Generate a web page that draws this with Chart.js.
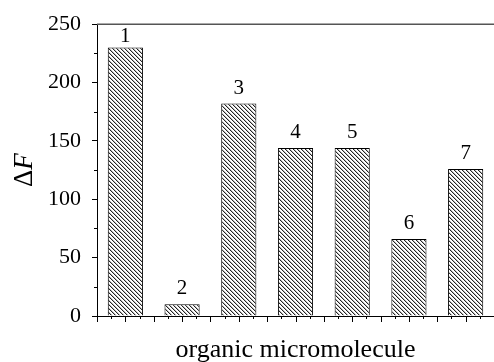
<!DOCTYPE html>
<html>
<head>
<meta charset="utf-8">
<script src="https://cdn.jsdelivr.net/npm/chart.js@4.4.1/dist/chart.umd.min.js"></script>
<style>
  html, body { margin: 0; padding: 0; background: #fff; }
</style>
</head>
<body>
<canvas id="chart" width="494" height="362"></canvas>
<script>
// data
const categories = [1, 2, 3, 4, 5, 6, 7];
const barLabels = ['1', '2', '3', '4', '5', '6', '7'];
const deltaF = [230, 10, 182, 144, 144, 66, 126];
const yTicks = [0, 50, 100, 150, 200, 250];
const xTitle = 'organic micromolecule';

const serif = 'Liberation Serif';

document.addEventListener("DOMContentLoaded", function() {
    const canvas = document.getElementById('chart');
    const ctx = canvas.getContext('2d');

    // diagonal hatch "\\\" for the bars
    const tile = document.createElement('canvas');
    tile.width = 4;
    tile.height = 4;
    const t = tile.getContext('2d');
    t.fillStyle = '#fff';
    t.fillRect(0, 0, 4, 4);
    for (let i = 0; i < 4; i++) {
        t.fillStyle = '#222';
        t.fillRect(i, i, 1, 1);
        t.fillStyle = '#bbb';
        t.fillRect((i + 1) % 4, i, 1, 1);
    }
    const hatch = ctx.createPattern(tile, 'repeat');

    // minor ticks, top frame line, bar numbers and the y title
    const extras = {
        id: 'extras',
        afterDraw(chart) {
            const c = chart.ctx;
            const area = chart.chartArea;
            const x = chart.scales.x;
            const y = chart.scales.y;
            c.save();
            c.strokeStyle = '#000';
            c.lineWidth = 1;
            c.beginPath();
            for (let v = x.min; v <= x.max + 1e-9; v += 0.25) {
                const px = Math.round(x.getPixelForValue(v)) + 0.5;
                const major = Math.abs(v * 2 - Math.round(v * 2)) < 1e-6;
                c.moveTo(px, area.bottom);
                c.lineTo(px, area.bottom + (major ? 6 : 3));
            }
            for (let v = 25; v < y.max; v += 50) {
                const py = Math.round(y.getPixelForValue(v)) + 0.5;
                c.moveTo(area.left, py);
                c.lineTo(area.left - 3, py);
            }
            c.stroke();

            c.strokeStyle = '#555';
            c.lineWidth = 1.5;
            c.beginPath();
            c.moveTo(area.left, area.top);
            c.lineTo(area.right, area.top);
            c.stroke();

            // numbers over bars
            c.fillStyle = '#000';
            c.font = '21px "' + serif + '"';
            c.textAlign = 'center';
            c.textBaseline = 'alphabetic';
            chart.getDatasetMeta(0).data.forEach((bar, i) => {
                const base = Math.max(bar.y - 10, area.top + 18);
                c.fillText(barLabels[i], bar.x, base);
            });

            // y title: ΔF with italic F
            c.translate(area.left - 65, (area.top + area.bottom) / 2);
            c.rotate(-Math.PI / 2);
            c.textAlign = 'left';
            const up = '27px "' + serif + '"';
            const it = 'italic 27px "' + serif + '"';
            c.font = up;
            const w1 = c.measureText('\u0394').width;
            c.font = it;
            const w2 = c.measureText('F').width;
            const start = -(w1 + w2) / 2;
            c.font = up;
            c.fillText('\u0394', start, 0);
            c.font = it;
            c.fillText('F', start + w1, 0);
            c.restore();
        }
    };

    new Chart(ctx, {
        type: 'bar',
        data: {
            datasets: [{
                data: categories.map((c, i) => ({ x: c, y: deltaF[i] })),
                backgroundColor: hatch,
                borderColor: '#000',
                borderWidth: 1,
                borderSkipped: 'bottom',
                barPercentage: 0.62,
                categoryPercentage: 1
            }]
        },
        options: {
            responsive: false,
            animation: false,
            devicePixelRatio: 1,
            layout: { padding: { top: 24, right: 0, bottom: 0, left: 0 } },
            plugins: {
                legend: { display: false },
                tooltip: { enabled: false }
            },
            scales: {
                x: {
                    type: 'linear',
                    min: 0.5,
                    max: 7.5,
                    offset: false,
                    grid: { display: false, offset: false },
                    border: { display: true, color: '#000', width: 1 },
                    ticks: { display: false },
                    title: {
                        display: true,
                        text: xTitle,
                        color: '#000',
                        font: { family: serif, size: 26 },
                        padding: { top: 0, bottom: -4 }
                    },
                    afterFit: s => { s.height = 46; }
                },
                y: {
                    min: yTicks[0],
                    max: yTicks[yTicks.length - 1],
                    afterBuildTicks: s => { s.ticks = yTicks.map(v => ({ value: v })); },
                    ticks: {
                        color: '#000',
                        padding: 11,
                        font: { family: serif, size: 22 }
                    },
                    grid: { drawOnChartArea: false, drawTicks: true, tickLength: 5, color: '#000' },
                    border: { display: true, color: '#000', width: 1 },
                    afterFit: s => { s.width = 97; }
                }
            }
        },
        plugins: [extras]
    });
});
</script>
</body>
</html>
